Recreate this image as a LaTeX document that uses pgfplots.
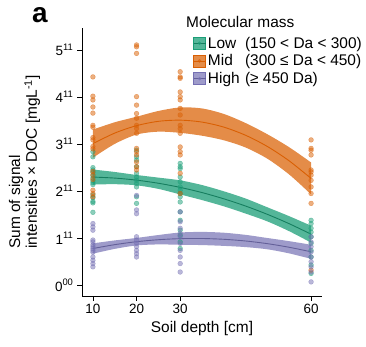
\documentclass[border=0pt]{standalone}
\usepackage{fontspec}
\setmainfont{Liberation Sans}
\usepackage{pgfplots}
\usepackage{pgfplotstable}
\pgfplotsset{compat=1.18}
\usepgfplotslibrary{fillbetween}
\definecolor{lowc}{HTML}{1B9E77}
\definecolor{midc}{HTML}{D95F02}
\definecolor{highc}{HTML}{7570B3}

\pgfplotstableread{
x y
10 2.84
10 2.73
10 2.50
10 2.45
10 2.40
10 2.33
10 2.28
10 2.22
10 2.18
10 2.14
10 1.92
10 1.86
10 1.78
10 1.75
10 1.55
20 2.87
20 2.73
20 2.66
20 2.52
20 2.38
20 2.30
20 2.23
20 2.16
20 2.09
20 1.88
20 1.74
30 2.59
30 2.52
30 2.48
30 2.30
30 2.20
30 2.09
30 2.02
30 1.95
30 1.88
30 1.77
30 1.56
30 1.38
30 1.17
30 1.06
30 0.92
30 0.78
60 1.38
60 1.31
60 1.21
60 1.13
60 1.03
60 0.89
60 0.74
60 0.60
60 0.43
60 0.25
}\lowpts

\pgfplotstableread{
x y
10 4.43
10 4.02
10 3.94
10 3.79
10 3.66
10 3.40
10 3.36
10 3.14
10 3.09
10 2.95
10 2.90
10 2.42
10 2.35
10 2.25
10 2.02
10 1.95
10 1.88
20 5.11
20 5.07
20 4.93
20 4.01
20 3.83
20 3.65
20 3.55
20 3.40
20 3.33
20 3.23
20 2.91
20 2.84
20 2.77
20 2.62
20 2.52
20 2.45
30 4.54
30 4.43
30 4.40
30 4.11
30 4.01
30 3.94
30 3.76
30 3.62
30 3.40
30 3.33
30 3.23
30 2.94
30 2.84
30 2.77
30 2.38
30 1.95
60 3.09
60 2.91
60 2.87
60 2.77
60 2.45
60 2.41
60 2.34
60 2.23
60 2.09
60 1.95
60 1.74
60 0.32
}\midpts

\pgfplotstableread{
x y
10 1.31
10 1.24
10 1.17
10 0.96
10 0.92
10 0.86
10 0.82
10 0.78
10 0.74
10 0.70
10 0.60
10 0.53
10 0.46
10 0.39
20 1.91
20 1.60
20 1.52
20 1.03
20 0.96
20 0.89
20 0.82
20 0.74
20 0.67
20 0.60
30 1.56
30 1.35
30 1.21
30 1.10
30 1.03
30 0.89
30 0.74
30 0.60
30 0.46
30 0.28
60 1.03
60 0.92
60 0.82
60 0.71
60 0.60
60 0.50
60 0.39
60 0.28
60 0.07
}\highpts

\pgfplotstableread{
x c u l
10 3.010 3.310 2.710
15 3.235 3.465 3.005
20 3.393 3.583 3.203
25 3.485 3.705 3.265
30 3.510 3.780 3.240
35 3.469 3.759 3.179
40 3.362 3.642 3.082
45 3.188 3.448 2.928
50 2.949 3.209 2.689
55 2.643 2.933 2.353
60 2.270 2.610 1.930
}\midfit

\pgfplotstableread{
x c u l
10 2.300 2.460 2.140
15 2.278 2.408 2.148
20 2.234 2.344 2.124
25 2.168 2.288 2.048
30 2.080 2.230 1.930
35 1.970 2.130 1.810
40 1.837 1.997 1.677
45 1.683 1.843 1.523
50 1.506 1.656 1.356
55 1.307 1.467 1.147
60 1.085 1.265 0.905
}\lowfit

\pgfplotstableread{
x c u l
10 0.780 0.890 0.670
15 0.862 0.952 0.772
20 0.925 1.005 0.845
25 0.967 1.067 0.867
30 0.990 1.120 0.860
35 0.993 1.133 0.853
40 0.976 1.116 0.836
45 0.940 1.070 0.810
50 0.883 1.003 0.763
55 0.806 0.936 0.676
60 0.710 0.860 0.560
}\highfit

\begin{document}
\begin{tikzpicture}
\begin{axis}[
  at={(82bp,51bp)}, anchor=south west,
  scale only axis, width=240bp, height=268bp,
  xmin=7.5, xmax=62.5, ymin=-0.23, ymax=5.47,
  axis x line*=bottom, axis y line*=left,
  axis line style={line width=0.8pt, black},
  every tick/.style={line width=0.8pt, black},
  tick align=outside, major tick length=5bp,
  xtick={10,20,30,60}, xticklabels={10,20,30,60},
  ytick={0,1,2,3,4,5},
  yticklabels={0\textsuperscript{00},1\textsuperscript{11},2\textsuperscript{11},3\textsuperscript{11},4\textsuperscript{11},5\textsuperscript{11}},
  tick label style={font=\fontsize{13.5}{16}\selectfont},
  xlabel={Soil depth [cm]},
  ylabel={Sum of signal\\intensities × DOC [mgL\textsuperscript{-1}]},
  label style={font=\fontsize{15.5}{17}\selectfont},
  ylabel style={align=left},
  ylabel shift=8bp,
  clip=false,
  legend style={at={(0.4625,0.975)}, anchor=north west, draw=none, fill=none,
    font=\fontsize{15.5}{18}\selectfont, inner sep=0pt, row sep=1bp,
    /tikz/every even column/.append style={column sep=2pt}},
  legend cell align=left,
]
% points
\addplot[only marks, mark=*, mark size=2.4bp, color=lowc, mark options={draw=lowc, fill=lowc, opacity=0.5}, forget plot] table[x=x,y=y]{\lowpts};
\addplot[only marks, mark=*, mark size=2.4bp, color=midc, mark options={draw=midc, fill=midc, opacity=0.5}, forget plot] table[x=x,y=y]{\midpts};
\addplot[only marks, mark=*, mark size=2.4bp, color=highc, mark options={draw=highc, fill=highc, opacity=0.5}, forget plot] table[x=x,y=y]{\highpts};
% ribbons
\addplot[name path=lowU, draw=none, smooth, forget plot] table[x=x,y=u]{\lowfit};
\addplot[name path=lowL, draw=none, smooth, forget plot] table[x=x,y=l]{\lowfit};
\addplot[fill=lowc, fill opacity=0.75, draw=none, forget plot] fill between[of=lowU and lowL];
\addplot[lowc!80!black, line width=0.9pt, smooth, forget plot] table[x=x,y=c]{\lowfit};

\addplot[name path=midU, draw=none, smooth, forget plot] table[x=x,y=u]{\midfit};
\addplot[name path=midL, draw=none, smooth, forget plot] table[x=x,y=l]{\midfit};
\addplot[fill=midc, fill opacity=0.72, draw=none, forget plot] fill between[of=midU and midL];
\addplot[midc, line width=0.9pt, smooth, forget plot] table[x=x,y=c]{\midfit};

\addplot[name path=highU, draw=none, smooth, forget plot] table[x=x,y=u]{\highfit};
\addplot[name path=highL, draw=none, smooth, forget plot] table[x=x,y=l]{\highfit};
\addplot[fill=highc, fill opacity=0.7, draw=none, forget plot] fill between[of=highU and highL];
\addplot[highc!85!black, line width=0.9pt, smooth, forget plot] table[x=x,y=c]{\highfit};

% legend
\addlegendimage{legend image code/.code={\fill[lowc, fill opacity=0.75] (0bp,-6bp) rectangle (12bp,6bp); \draw[lowc!80!black, line width=0.8pt] (0bp,0bp)--(12bp,0bp); \fill[lowc, opacity=0.6] (6bp,0bp) circle (1.6bp);}}
\addlegendentry{\makebox[2.4em][l]{Low}(150 < Da < 300)}
\addlegendimage{legend image code/.code={\fill[midc, fill opacity=0.72] (0bp,-6bp) rectangle (12bp,6bp); \draw[midc, line width=0.8pt] (0bp,0bp)--(12bp,0bp); \fill[midc, opacity=0.6] (6bp,0bp) circle (1.6bp);}}
\addlegendentry{\makebox[2.4em][l]{Mid}(300 ≤ Da < 450)}
\addlegendimage{legend image code/.code={\fill[highc, fill opacity=0.7] (0bp,-6bp) rectangle (12bp,6bp); \draw[highc!85!black, line width=0.8pt] (0bp,0bp)--(12bp,0bp); \fill[highc, opacity=0.6] (6bp,0bp) circle (1.6bp);}}
\addlegendentry{\makebox[2.4em][l]{High}(≥ 450 Da)}
\end{axis}
\node[anchor=west, font=\fontsize{15.5}{18}\selectfont, inner sep=0pt] at (186bp,325bp) {Molecular mass};
\node[font=\fontsize{28}{30}\selectfont\bfseries, inner sep=0pt] at (40bp,332bp) {a};
\pgfresetboundingbox
\useasboundingbox (0,0) rectangle (366bp,347bp);
\end{tikzpicture}
\end{document}
